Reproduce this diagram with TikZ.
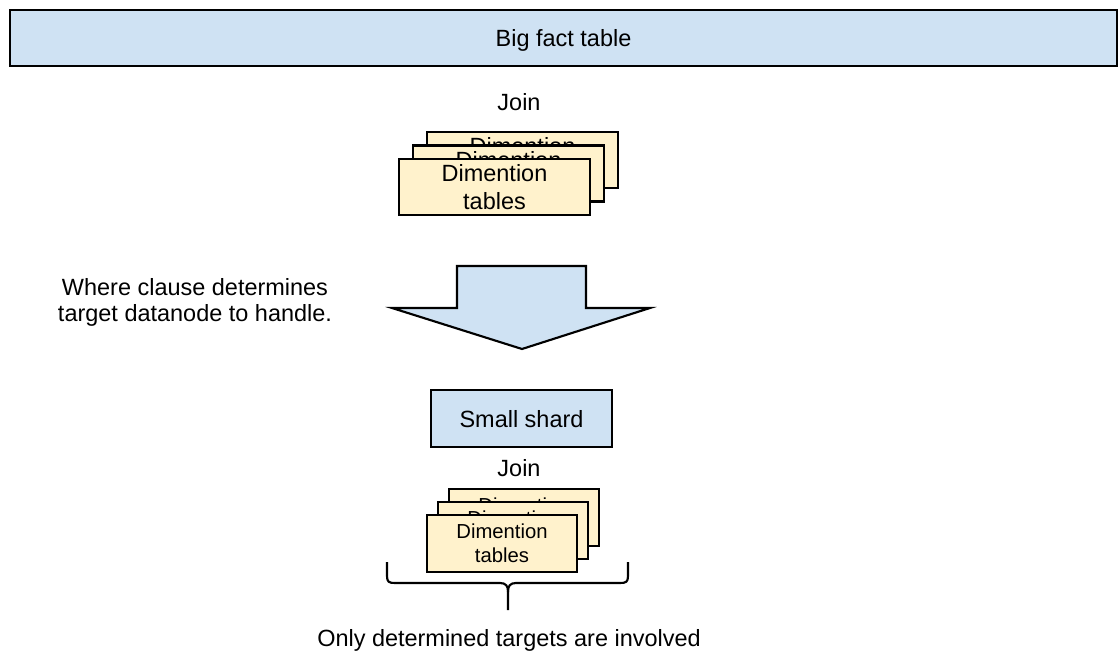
\documentclass[tikz,border=0pt]{standalone}
\usepackage{fontspec}
\setmainfont{Liberation Sans}
\definecolor{lblue}{HTML}{CFE2F3}
\definecolor{lyel}{HTML}{FFF2CC}
\begin{document}
\begin{tikzpicture}[x=0.75pt,y=-0.75pt,line width=1.6pt,
  bluebox/.style={draw=black,fill=lblue,inner sep=0pt,align=center,font=\fontsize{17.6}{20.5}\selectfont},
  bigcard/.style={draw=black,fill=lyel,inner sep=0pt,align=center,minimum width=191*0.75pt,minimum height=56*0.75pt,font=\fontsize{17.6}{20.5}\selectfont},
  smallcard/.style={draw=black,fill=lyel,inner sep=0pt,align=center,minimum width=150*0.75pt,minimum height=57*0.75pt,font=\fontsize{15.2}{18}\selectfont},
  lbl/.style={inner sep=0pt,align=center,font=\fontsize{17.6}{19.5}\selectfont}]
\useasboundingbox (0,0) rectangle (1120,655);
\fill[white] (0,0) rectangle (1120,655);

\node[bluebox,minimum width=1107*0.75pt,minimum height=56*0.75pt,text depth=0pt] (big) at (563.5,38) {Big fact table};
\node[lbl] (join1) at (519,102) {Join};

\node[bigcard] (c1a) at (522.5,160) {Dimention\\tables};
\node[bigcard] (c1b) at (508.5,173.5) {Dimention\\tables};
\node[bigcard] (c1c) at (494.5,187) {Dimention\\tables};

\draw[fill=lblue,line join=miter] (457,266) -- (586,266) -- (586,308) -- (650,308) -- (522,349) -- (392,308) -- (457,308) -- cycle;

\node[lbl] (where) at (195,302) {Where clause determines\\target datanode to handle.};

\node[bluebox,minimum width=181*0.75pt,minimum height=57*0.75pt,text depth=0pt] (shard) at (521.5,418.5) {Small shard};
\node[lbl] (join2) at (519,468) {Join};

\node[smallcard] (c2a) at (524,517.5) {Dimention\\tables};
\node[smallcard] (c2b) at (513,530.5) {Dimention\\tables};
\node[smallcard] (c2c) at (502,543.5) {Dimention\\tables};

\draw (387,562) -- (387,576) .. controls (387,582) and (389,583) .. (395,583) -- (500,583) .. controls (506,583) and (508,586) .. (508,592) -- (508,610);
\draw (628,562) -- (628,576) .. controls (628,582) and (626,583) .. (620,583) -- (516,583) .. controls (510,583) and (508,586) .. (508,592);

\node[lbl] (only) at (509,640) {Only determined targets are involved};
\end{tikzpicture}
\end{document}
